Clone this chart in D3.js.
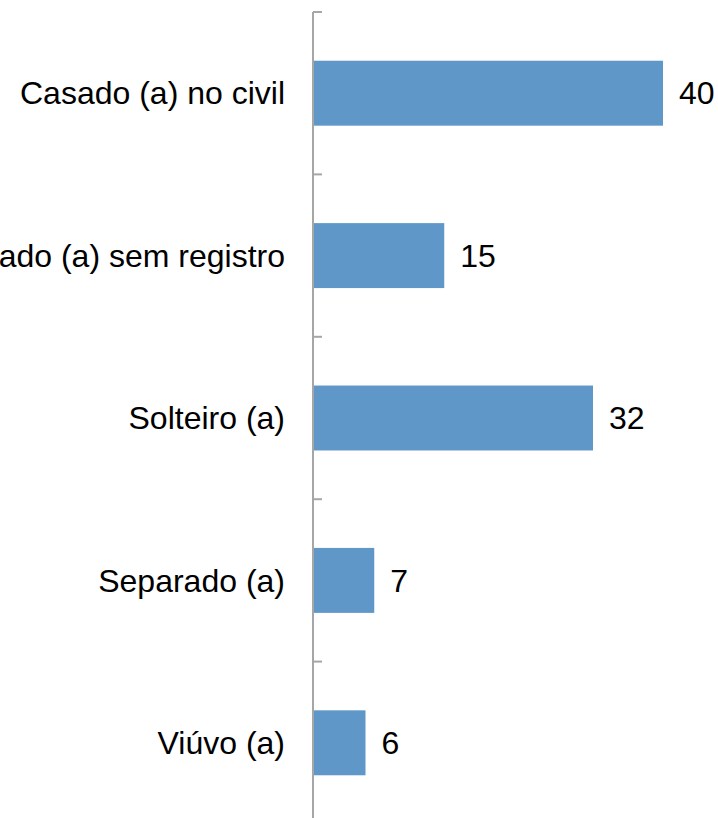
<!DOCTYPE html>
<html>
<head>
<meta charset="utf-8">
<script src="https://cdn.jsdelivr.net/npm/d3@7"></script>
<style>
  html, body { margin: 0; padding: 0; background: #fff; }
  svg { display: block; }
</style>
</head>
<body>
<div id="chart"></div>
<script>
const categories = ["Casado (a) no civil", "Casado (a) sem registro", "Solteiro (a)", "Separado (a)", "Viúvo (a)"];
const values = [40, 15, 32, 7, 6];

const width = 718;
const height = 818;

const svg = d3.select("#chart").append("svg")
    .attr("width", width)
    .attr("height", height);

// category bands, last one runs past the bottom edge
const y = d3.scaleBand()
    .domain(categories)
    .range([12, 824])
    .paddingInner(0.6)
    .paddingOuter(0.3);

const x = d3.scaleLinear()
    .domain([0, 40])
    .range([313, 663]);

const step = y.step();

// bars
svg.append("g")
    .selectAll("rect")
    .data(values)
    .enter()
    .append("rect")
    .attr("x", x(0))
    .attr("y", (d, i) => y(categories[i]))
    .attr("width", d => x(d) - x(0))
    .attr("height", y.bandwidth())
    .attr("fill", "#6097c9");

// axis line and tick marks (ticks between categories)
const axisG = svg.append("g");
axisG.append("line")
    .attr("x1", x(0)).attr("x2", x(0))
    .attr("y1", 12).attr("y2", height)
    .attr("stroke", "#a6a6a6")
    .attr("stroke-width", 2);

axisG.selectAll("line.tick")
    .data(d3.range(categories.length + 1))
    .enter()
    .append("line")
    .attr("class", "tick")
    .attr("x1", x(0)).attr("x2", x(0) + 9)
    .attr("y1", i => 12 + i * step)
    .attr("y2", i => 12 + i * step)
    .attr("stroke", "#a6a6a6")
    .attr("stroke-width", 2);

// category labels
svg.append("g")
    .selectAll("text")
    .data(categories)
    .enter()
    .append("text")
    .attr("x", 285)
    .attr("y", d => y(d) + y.bandwidth() / 2)
    .attr("dy", "0.35em")
    .attr("text-anchor", "end")
    .style("font-family", "'Liberation Sans', Arial, sans-serif")
    .style("font-size", "32px")
    .attr("fill", "#000")
    .text(d => d);

// value labels
svg.append("g")
    .selectAll("text")
    .data(values)
    .enter()
    .append("text")
    .attr("x", d => x(d) + 16)
    .attr("y", (d, i) => y(categories[i]) + y.bandwidth() / 2)
    .attr("dy", "0.35em")
    .style("font-family", "'Liberation Sans', Arial, sans-serif")
    .style("font-size", "32px")
    .attr("fill", "#000")
    .text(d => d);
</script>
</body>
</html>
